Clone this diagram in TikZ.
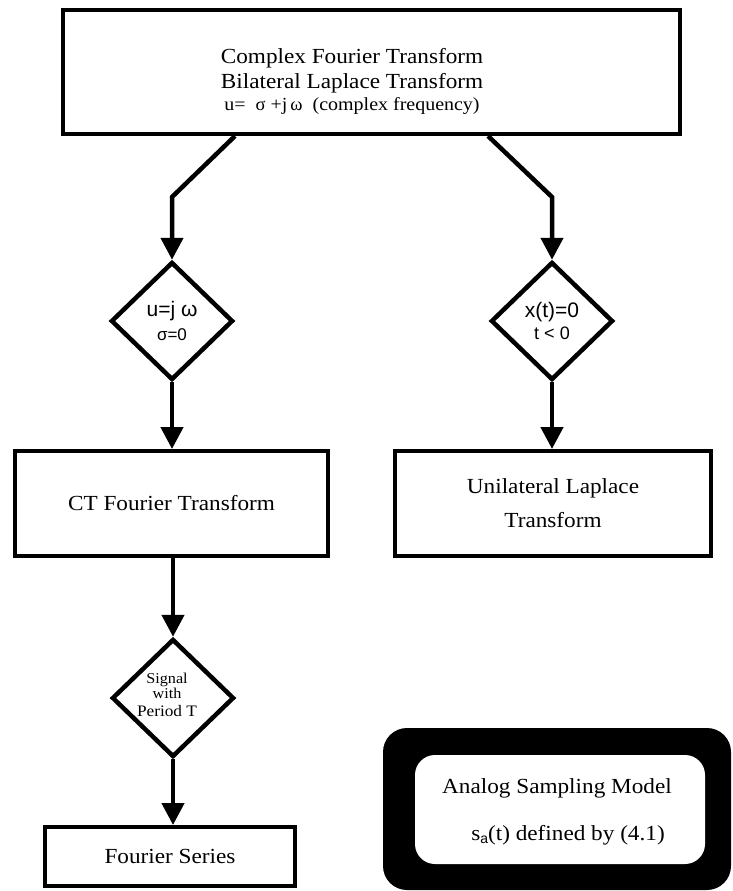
\documentclass[tikz,border=0pt]{standalone}
\usepackage{fontspec}
\setmainfont[FakeStretch=1.08]{Liberation Serif}
\newfontfamily\sansf{Liberation Sans}
\newfontfamily\greekf{Liberation Serif}
\usetikzlibrary{shapes.geometric,arrows.meta}
\begin{document}
\begin{tikzpicture}[x=1pt,y=-1pt,
  box/.style={draw, line width=4pt, rectangle, inner sep=0pt},
  test/.style={draw, diamond, line width=4.5pt, inner sep=0pt, align=center,
    minimum width=122pt, minimum height=118pt},
  conn/.style={line width=4.5pt, -{Triangle[width=22pt,length=22pt]}},
  txt/.style={inner sep=0pt, align=center, font=\fontsize{21.5}{26}\selectfont}]
\useasboundingbox (0,0) rectangle (732,891);

% top block
\node[box, minimum width=617pt, minimum height=124pt] (top) at (371.5,72) {};
\node[txt] (t1) at (352,58) {Complex Fourier Transform};
\node[txt] (t2) at (352,83) {Bilateral Laplace Transform};
\node[txt, font=\fontsize{18.5}{20}\selectfont] (t3) at (352,106)
  {u=\ \ {\greekf σ} +j\,{\greekf ω}\ \ (complex frequency)};

% decisions
\node[test] (d1) at (172,321)
  {{\sansf\fontsize{21}{22}\selectfont u=j ω}\\[6pt]{\sansf\fontsize{17}{18}\selectfont σ=0}};
\node[test] (d2) at (552,321)
  {{\sansf\fontsize{21}{23}\selectfont x(t)=0}\\[4pt]{\sansf\fontsize{18}{20}\selectfont t < 0}};
\node[test] (d3) at (173,698) {};
\node[inner sep=0pt, align=center] (d3t) at (167,695)
  {{\fontsize{15}{15}\selectfont Signal}\\[1pt]{\fontsize{15}{15}\selectfont with}\\[6pt]{\fontsize{16}{16}\selectfont Period T}};

% result blocks
\node[box, txt, minimum width=313pt, minimum height=105pt] (ct) at (171.5,503.5) {CT Fourier Transform};
\node[box, txt, minimum width=316pt, minimum height=105pt] (ul) at (553,503.5)
  {Unilateral Laplace\\[8pt]Transform};
\node[box, txt, minimum width=250pt, minimum height=59pt] (fs) at (170,856.5) {Fourier Series};

% sampling model block
\node[fill=black, rounded corners=24pt, minimum width=348pt, minimum height=162pt,
  inner sep=0pt] (an) at (557,809) {};
\node[fill=white, rounded corners=20pt, minimum width=290pt, minimum height=109pt,
  inner sep=0pt] (model) at (560,809.5) {};
\node[txt] (m1) at (557,788) {Analog Sampling Model};
\node[txt] (m2) at (568,835)
  {s\raisebox{-3pt}{\sansf\fontsize{14}{14}\selectfont a}(t) defined by (4.1)};

% connectors
\coordinate (tl) at ([xshift=174pt]top.south west);
\coordinate (tr) at ([xshift=427pt]top.south west);
\coordinate (bl) at (172,197);
\coordinate (br) at (552,197);
\draw[conn] (tl) -- (bl) -- (d1.north);
\draw[conn] (tr) -- (br) -- (d2.north);
\draw[conn] (d1.south) -- (d1.south |- ct.north);
\draw[conn] (d2.south) -- (d2.south |- ul.north);
\draw[conn] (d3.north |- ct.south) -- (d3.north);
\draw[conn] (d3.south) -- (d3.south |- fs.north);
\end{tikzpicture}
\end{document}
